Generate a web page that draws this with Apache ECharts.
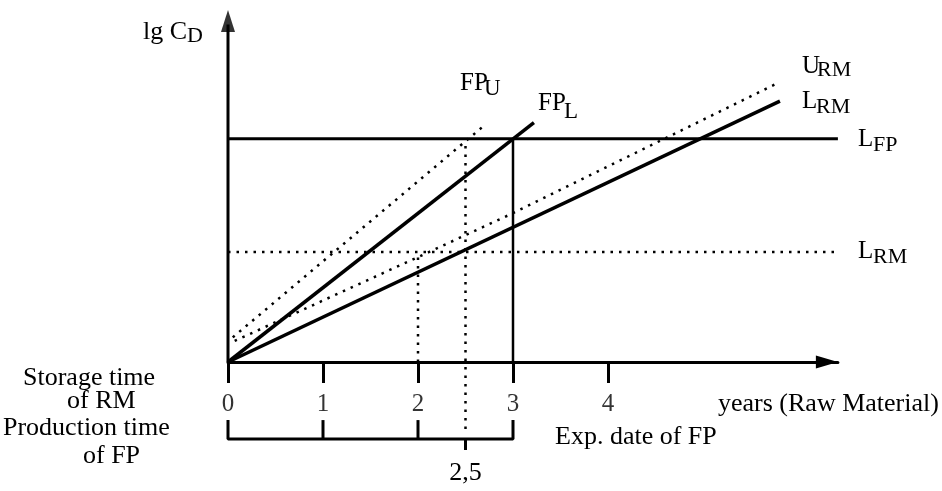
<!DOCTYPE html>
<html>
<head>
<meta charset="utf-8">
<script src="https://cdn.jsdelivr.net/npm/echarts@6/dist/echarts.min.js"></script>
<style>html,body{margin:0;padding:0;background:#fff}#c{width:942px;height:491px}</style>
</head>
<body>
<div id="c"></div>
<script>
// ---- data (years on x, lg C_D in arbitrary units on y) ----
var xTicks = [0, 1, 2, 3, 4];
var xTickLabels = ['0', '1', '2', '3', '4'];
var levelLFP = 6.34;          // limit for finished product
var levelLRM = 3.125;         // limit for raw material (dotted)
var lineFPL = [[0, 0], [3.22, 6.8]];
var lineFPU = [[0.05, 0.7], [2.68, 6.68]];
var lineLRM = [[0, 0], [5.81, 7.41]];
var lineURM = [[0.07, 0.6], [2.0, 2.98], [3.0, 4.23], [5.79, 7.93]];
var xEnd = 6.42;
var yTop = 9.69;
var bracketTickTop = -1.65, bracketY = -2.19, bracketDown = -2.5, midDotBottom = -1.9;

var FONT = '"Liberation Serif", "Times New Roman", serif';
var chart = echarts.init(document.getElementById('c'), null, {renderer: 'canvas'});

function seg(data, dotted, w) {
  return {
    type: 'line', data: data, symbol: 'none', silent: true, clip: false, animation: false,
    lineStyle: {color: '#000', width: w || 3, type: dotted ? [2.5, 6] : 'solid', cap: 'butt'}
  };
}

var series = [
  seg([[0, 0], [0, yTop - 0.1]], false, 3),
  {type: 'scatter', data: [[0, yTop]], symbol: 'triangle', symbolSize: [14, 22], silent: true, clip: false, animation: false, itemStyle: {color: '#000'}},
  seg([[0, levelLFP], [xEnd, levelLFP]], false, 3),
  seg([[0, levelLRM], [xEnd, levelLRM]], true, 2.5),
  seg(lineFPL, false, 3.5),
  seg(lineFPU, true, 2.5),
  seg(lineLRM, false, 3.5),
  seg(lineURM, true, 2.5),
  seg([[3, 0], [3, levelLFP]], false, 2.5),
  seg([[2, 0], [2, levelLRM]], true, 2.5),
  seg([[2.5, midDotBottom], [2.5, levelLFP]], true, 2.5),
  seg([[0, bracketTickTop], [0, bracketY], [3, bracketY], [3, bracketTickTop]], false, 3),
  seg([[1, bracketTickTop], [1, bracketY]], false, 3),
  seg([[2, bracketTickTop], [2, bracketY]], false, 3),
  seg([[2.5, bracketY], [2.5, bracketDown]], false, 3),
  {
    type: 'scatter', silent: true, clip: false, animation: false, symbolSize: 1,
    itemStyle: {color: 'rgba(0,0,0,0)'},
    data: xTicks.map(function (v, i) { return {value: [v, 0], name: xTickLabels[i]}; }),
    label: {show: true, position: 'bottom', distance: 29, formatter: '{b}', color: '#000', fontSize: 25, fontFamily: FONT}
  }
];

// text annotations: [text, x, baseline, size, align]
var texts = [
  ['lg C', 143, 41, 26], ['D', 187, 44, 22],
  ['FP', 460, 92, 25], ['U', 484, 97, 23],
  ['FP', 538, 112, 25], ['L', 564, 120, 23],
  ['U', 802, 75, 25], ['RM', 817, 78, 22],
  ['L', 802, 110, 25], ['RM', 816, 115, 22],
  ['L', 858, 148, 25], ['FP', 873, 153, 22],
  ['L', 858, 260, 25], ['RM', 873, 265, 22],
  ['Storage time', 23, 387, 26], ['of RM', 67, 410, 26],
  ['Production time', 3, 437, 26], ['of FP', 83, 465, 26],
  ['years (Raw Material)', 718, 413, 26],
  ['Exp. date of FP', 555, 446, 26],
  ['2,5', 465.5, 482, 26, 'center']
];
var graphics = texts.map(function (t) {
  return {
    type: 'text', x: t[1], y: t[2] - 0.8375 * t[3], silent: true,
    style: {text: t[0], font: t[3] + 'px ' + FONT, fill: '#000', align: t[4] || 'left', verticalAlign: 'top'}
  };
});

chart.setOption({
  animation: false,
  grid: {left: 228, right: 104.1, top: 10, bottom: 5.8, containLabel: false},
  xAxis: {
    type: 'value', min: 0, max: xEnd,
    axisLine: {onZero: true, lineStyle: {color: '#000', width: 3}, symbol: ['none', 'triangle'], symbolSize: [13, 22], symbolOffset: [0, -11]},
    axisTick: {show: true, customValues: xTicks, length: 21, lineStyle: {color: '#000', width: 3}},
    axisLabel: {show: false},
    splitLine: {show: false}
  },
  yAxis: {
    type: 'value', min: -3.5, max: 10, interval: 0.5,
    axisLine: {show: false}, axisTick: {show: false}, axisLabel: {show: false}, splitLine: {show: false}
  },
  series: series,
  graphic: graphics
});
</script>
</body>
</html>
